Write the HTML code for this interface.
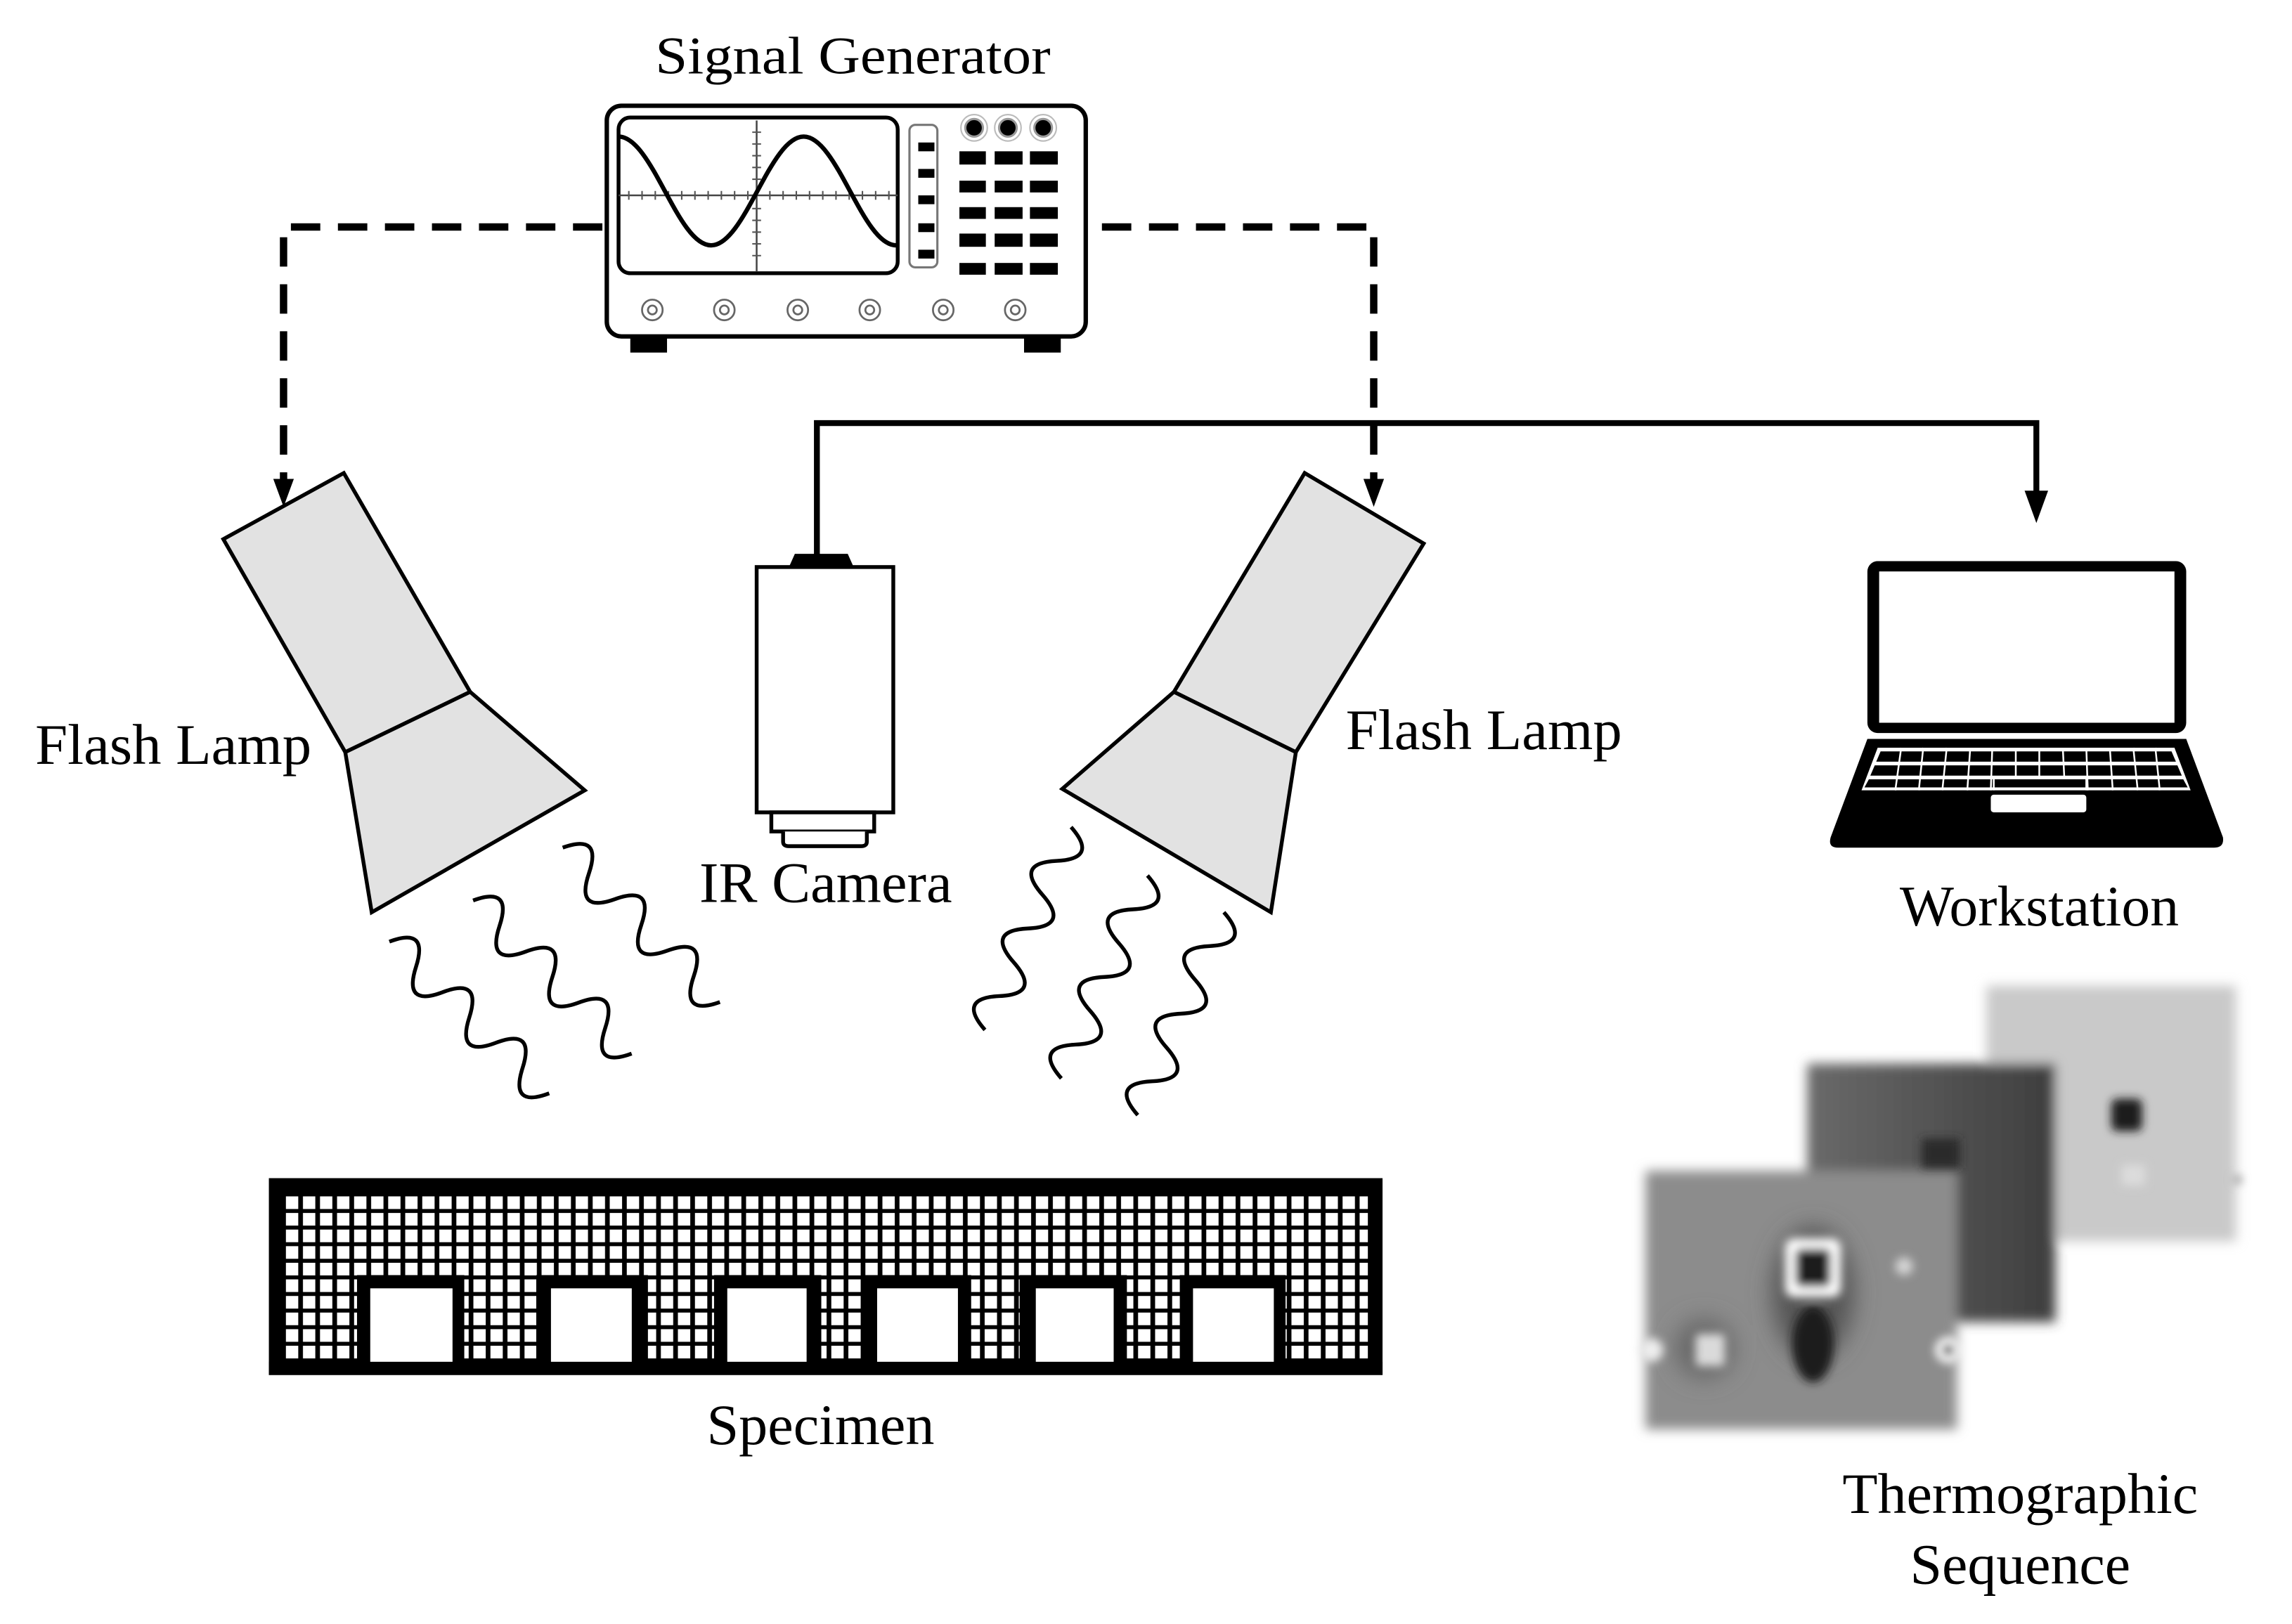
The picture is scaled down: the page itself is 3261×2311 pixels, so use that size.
<!DOCTYPE html>
<html><head><meta charset="utf-8"><style>
html,body{margin:0;padding:0;background:#fff}
svg{display:block}
text{font-family:"Liberation Serif",serif;fill:#000}
</style></head><body>
<svg width="3261" height="2311" viewBox="0 0 1560 1105.5" preserveAspectRatio="none" xmlns="http://www.w3.org/2000/svg">
<defs>
<pattern id="grid" x="193" y="813" width="11.6" height="11.3" patternUnits="userSpaceOnUse">
<rect width="11.6" height="11.3" fill="#000"/>
<rect x="1.6" y="1.4" width="8.4" height="8.6" fill="#fff"/>
</pattern>
<linearGradient id="mg" x1="0" x2="1" y1="0" y2="0"><stop offset="0" stop-color="#6a6a6a"/><stop offset="1" stop-color="#3e3e3e"/></linearGradient>
<filter id="bl" x="-10%" y="-10%" width="120%" height="120%"><feGaussianBlur stdDeviation="4"/></filter>
<filter id="bl2" x="-50%" y="-50%" width="200%" height="200%"><feGaussianBlur stdDeviation="3"/></filter>
<filter id="bl3" x="-50%" y="-50%" width="200%" height="200%"><feGaussianBlur stdDeviation="8"/></filter>
<path id="wave" d="M0,0 q12.5,-26 25,0 t25,0 t25,0 t25,0 t25,0 t25,0" fill="none" stroke="#000" stroke-width="2.6"/>
</defs>

<text x="446" y="50" font-size="36" textLength="269" lengthAdjust="spacingAndGlyphs">Signal Generator</text>
<rect x="413" y="72" width="326" height="157" rx="10" fill="#fff" stroke="#000" stroke-width="3"/>
<rect x="421" y="80" width="190" height="106" rx="8" fill="#fff" stroke="#000" stroke-width="2.6"/>
<line x1="421" y1="133" x2="611" y2="133" stroke="#444" stroke-width="1.2"/>
<line x1="515" y1="82" x2="515" y2="185" stroke="#444" stroke-width="1.2"/>
<g stroke="#555" stroke-width="1">
<path d="M428,130v6M437,130v6M446,130v6M455,130v6M464,130v6M473,130v6M482,130v6M491,130v6M500,130v6M509,130v6M524,130v6M533,130v6M542,130v6M551,130v6M560,130v6M569,130v6M578,130v6M587,130v6M596,130v6M605,130v6"/>
<path d="M512,90h6M512,98h6M512,106h6M512,114h6M512,122h6M512,142h6M512,150h6M512,158h6M512,166h6M512,174h6"/>
</g>
<path d="M421,93 C444,93 461,167 484,167 C507,167 524,93 547,93 C570,93 587,167 610,167" fill="none" stroke="#000" stroke-width="3"/>
<rect x="619" y="85" width="19" height="97" rx="4" fill="#fff" stroke="#777" stroke-width="1.5"/>
<g fill="#000"><rect x="625" y="97" width="11" height="6"/><rect x="625" y="115" width="11" height="6"/><rect x="625" y="133" width="11" height="6"/><rect x="625" y="152" width="11" height="6"/><rect x="625" y="170" width="11" height="6"/></g>
<g fill="#000" stroke="#999" stroke-width="1.5"><circle cx="663" cy="87" r="6"/><circle cx="686" cy="87" r="6"/><circle cx="710" cy="87" r="6"/></g>
<g fill="none" stroke="#bbb" stroke-width="1"><circle cx="663" cy="87" r="9"/><circle cx="686" cy="87" r="9"/><circle cx="710" cy="87" r="9"/></g>
<g fill="#000">
<rect x="653" y="103" width="18" height="9"/><rect x="677" y="103" width="19" height="9"/><rect x="701" y="103" width="19" height="9"/>
<rect x="653" y="123" width="18" height="8"/><rect x="677" y="123" width="19" height="8"/><rect x="701" y="123" width="19" height="8"/>
<rect x="653" y="141" width="18" height="8"/><rect x="677" y="141" width="19" height="8"/><rect x="701" y="141" width="19" height="8"/>
<rect x="653" y="159" width="18" height="9"/><rect x="677" y="159" width="19" height="9"/><rect x="701" y="159" width="19" height="9"/>
<rect x="653" y="179" width="18" height="8"/><rect x="677" y="179" width="19" height="8"/><rect x="701" y="179" width="19" height="8"/>
</g>
<g fill="none" stroke="#666" stroke-width="1.3">
<circle cx="444" cy="211" r="7"/><circle cx="444" cy="211" r="3"/>
<circle cx="493" cy="211" r="7"/><circle cx="493" cy="211" r="3"/>
<circle cx="543" cy="211" r="7"/><circle cx="543" cy="211" r="3"/>
<circle cx="592" cy="211" r="7"/><circle cx="592" cy="211" r="3"/>
<circle cx="642" cy="211" r="7"/><circle cx="642" cy="211" r="3"/>
<circle cx="691" cy="211" r="7"/><circle cx="691" cy="211" r="3"/>
</g>
<rect x="429" y="229" width="25" height="11" fill="#000"/>
<rect x="697" y="229" width="25" height="11" fill="#000"/>

<g fill="none" stroke="#000" stroke-width="5" stroke-dasharray="20 12">
<path d="M410,154.5 H193 V328"/>
<path d="M750,154.5 H935 V328"/>
</g>
<path d="M186,326 L200,326 L193,345 Z" fill="#000"/>
<path d="M928,326 L942,326 L935,345 Z" fill="#000"/>

<path d="M556,378 V288 H1386 V338" fill="none" stroke="#000" stroke-width="4"/>
<path d="M1378,334 L1394,334 L1386,356 Z" fill="#000"/>

<g fill="#e2e2e2" stroke="#000" stroke-width="2.6" stroke-linejoin="miter">
<polygon points="152,367 234,322 320,471 235,512"/>
<polygon points="235,512 320,471 398,538 253,621"/>
<polygon points="888,322 969,370 882,512 799,471"/>
<polygon points="799,471 882,512 865,621 723,537"/>
</g>

<path d="M537,386 L541,377 L577,377 L581,386 Z" fill="#000"/>
<rect x="515" y="386" width="93" height="167" fill="#fff" stroke="#000" stroke-width="2.6"/>
<rect x="525" y="553" width="70" height="13" fill="#fff" stroke="#000" stroke-width="2.6"/>
<path d="M533,566 V573 Q533,576 537,576 H586 Q590,576 590,573 V566" fill="#fff" stroke="#000" stroke-width="2.6"/>

<use href="#wave" transform="translate(265,641) rotate(43.5)"/>
<use href="#wave" transform="translate(322,613) rotate(44)"/>
<use href="#wave" transform="translate(383,577) rotate(44.5)"/>
<use href="#wave" transform="translate(729,563) rotate(113)"/>
<use href="#wave" transform="translate(781,596) rotate(113)"/>
<use href="#wave" transform="translate(833,621) rotate(113)"/>

<text x="24" y="520" font-size="39" textLength="188" lengthAdjust="spacingAndGlyphs">Flash Lamp</text>
<text x="916" y="510" font-size="39" textLength="188" lengthAdjust="spacingAndGlyphs">Flash Lamp</text>
<text x="476" y="614" font-size="39" textLength="172" lengthAdjust="spacingAndGlyphs">IR Camera</text>
<text x="1293" y="630" font-size="39" textLength="190" lengthAdjust="spacingAndGlyphs">Workstation</text>
<text x="481" y="983" font-size="39" textLength="155" lengthAdjust="spacingAndGlyphs">Specimen</text>
<text x="1254" y="1030" font-size="39" textLength="242" lengthAdjust="spacingAndGlyphs">Thermographic</text>
<text x="1300" y="1078" font-size="39" textLength="150" lengthAdjust="spacingAndGlyphs">Sequence</text>

<rect x="1271" y="382" width="217" height="117" rx="7" fill="#000"/>
<rect x="1279" y="389" width="201" height="103" fill="#fff"/>
<path d="M1271,503 H1488 L1513,570 Q1514,577 1507,577 H1251 Q1244,577 1246,570 Z" fill="#000"/>
<path d="M1278,509 H1480 L1491,538 H1267 Z" fill="#fff"/>
<g fill="#000">
<path d="M1280,511.5 H1478 L1481,518.5 H1277 Z"/>
<path d="M1276,521 H1482 L1485,528 H1273 Z"/>
<path d="M1272,530.5 H1486 L1489,536 H1269 Z"/>
</g>
<g stroke="#fff" stroke-width="1.2">
<path d="M1294,509 l-4,29 M1309,509 l-3,29 M1325,509 l-3,29 M1341,509 l-2,29 M1356,509 l-1,29 M1372,509 l0,20 M1388,509 l0,20 M1404,509 l1,20 M1420,509 l1,29 M1436,509 l2,29 M1452,509 l3,29 M1467,509 l3,29 M1357,529 v9 M1420,529 v9"/>
</g>
<rect x="1355" y="541" width="65" height="12" rx="2" fill="#fff"/>

<rect x="183" y="802" width="758" height="134" fill="#000"/>
<rect x="193" y="813" width="738" height="114" fill="url(#grid)"/>
<g fill="#000">
<rect x="243" y="868" width="73" height="64"/><rect x="365" y="868" width="76" height="64"/><rect x="486" y="868" width="73" height="64"/>
<rect x="587" y="868" width="74" height="64"/><rect x="694" y="868" width="73" height="64"/><rect x="803" y="868" width="72" height="64"/>
</g>
<rect x="183" y="927" width="758" height="9" fill="#000"/>
<g fill="#fff">
<rect x="252" y="877" width="56" height="50"/><rect x="375" y="877" width="55" height="50"/><rect x="495" y="877" width="54" height="50"/>
<rect x="597" y="877" width="55" height="50"/><rect x="705" y="877" width="53" height="50"/><rect x="812" y="877" width="55" height="50"/>
</g>

<g filter="url(#bl)">
<rect x="1352" y="671" width="170" height="174" fill="#c9c9c9"/>
<rect x="1230" y="724" width="169" height="176" fill="url(#mg)"/>
<rect x="1120" y="797" width="212" height="176" fill="#8c8c8c"/>
</g>
<g filter="url(#bl3)">
<ellipse cx="1234" cy="880" rx="28" ry="45" fill="#555"/>
<circle cx="1160" cy="918" r="20" fill="#666"/>
</g>
<g filter="url(#bl2)">
<rect x="1437" y="748" width="21" height="22" rx="4" fill="#1a1a1a"/>
<rect x="1444" y="793" width="16" height="14" fill="#dcdcdc"/>
<circle cx="1523" cy="803" r="3" fill="#999"/>
<rect x="1308" y="775" width="26" height="20" fill="#2a2a2a"/>
<rect x="1215" y="843" width="38" height="40" rx="6" fill="#fff"/>
<rect x="1222" y="850" width="24" height="26" rx="4" fill="#1c1c1c"/>
<ellipse cx="1234" cy="915" rx="14" ry="26" fill="#1a1a1a"/>
<rect x="1154" y="908" width="20" height="22" rx="3" fill="#dadada"/>
<circle cx="1296" cy="862" r="6" fill="#d5d5d5"/>
<circle cx="1326" cy="919" r="9" fill="#fff"/>
<circle cx="1326" cy="919" r="4" fill="#222"/>
<circle cx="1124" cy="919" r="8" fill="#eee"/>
</g>
</svg>
</body></html>
